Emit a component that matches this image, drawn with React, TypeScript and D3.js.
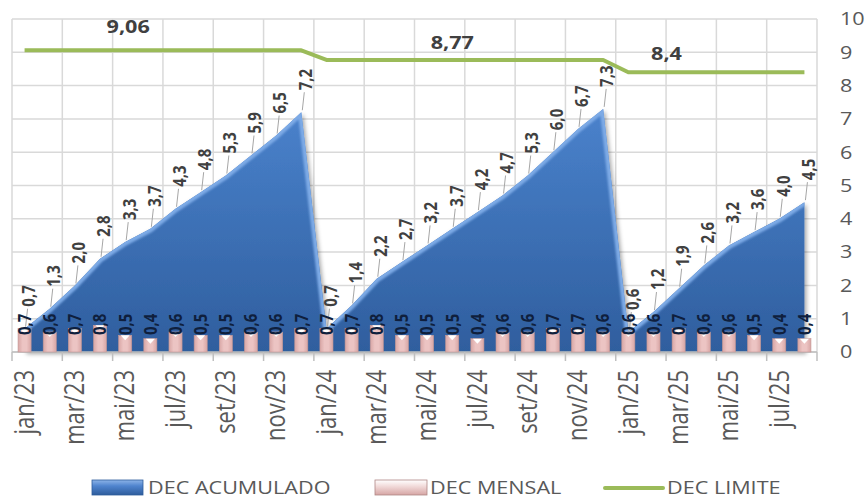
import * as d3 from "d3";
import { useEffect } from "react";

const months = [
  "jan/23", "fev/23", "mar/23", "abr/23", "mai/23", "jun/23", "jul/23", "ago/23", "set/23", "out/23", "nov/23", "dez/23",
  "jan/24", "fev/24", "mar/24", "abr/24", "mai/24", "jun/24", "jul/24", "ago/24", "set/24", "out/24", "nov/24", "dez/24",
  "jan/25", "fev/25", "mar/25", "abr/25", "mai/25", "jun/25", "jul/25", "ago/25",
];

const decAcumulado = [
  0.7, 1.3, 2.0, 2.8, 3.3, 3.7, 4.3, 4.8, 5.3, 5.9, 6.5, 7.2,
  0.7, 1.4, 2.2, 2.7, 3.2, 3.7, 4.2, 4.7, 5.3, 6.0, 6.7, 7.3,
  0.6, 1.2, 1.9, 2.6, 3.2, 3.6, 4.0, 4.5,
];

const decMensal = [
  0.7, 0.6, 0.7, 0.8, 0.5, 0.4, 0.6, 0.5, 0.5, 0.6, 0.6, 0.7,
  0.7, 0.7, 0.8, 0.5, 0.5, 0.5, 0.4, 0.6, 0.6, 0.7, 0.7, 0.6,
  0.6, 0.6, 0.7, 0.6, 0.6, 0.5, 0.4, 0.4,
];

const decLimite = [
  9.06, 9.06, 9.06, 9.06, 9.06, 9.06, 9.06, 9.06, 9.06, 9.06, 9.06, 9.06,
  8.77, 8.77, 8.77, 8.77, 8.77, 8.77, 8.77, 8.77, 8.77, 8.77, 8.77, 8.77,
  8.4, 8.4, 8.4, 8.4, 8.4, 8.4, 8.4, 8.4,
];

// which month carries the limit label
const limiteLabels = [
  { month: "mai/23", text: "9,06" },
  { month: "jun/24", text: "8,77" },
  { month: "fev/25", text: "8,4" },
];

const yTicks = [0, 1, 2, 3, 4, 5, 6, 7, 8, 9, 10];

const legendItems = ["DEC ACUMULADO", "DEC MENSAL", "DEC LIMITE"];

const fmt = (v: number) => d3.format(".1f")(v).replace(".", ",");

const W = 868;
const H = 498;
const FONT = "'Open Sans', 'Noto Sans', sans-serif";
const SX = 1.2; // horizontal text stretch seen in the picture

export default function App() {
  useEffect(() => {
    document.body.style.margin = "0";
  }, []);

  const x = d3.scaleBand<string>().domain(months).range([12, 817]).paddingInner(0.48).paddingOuter(0.24);
  const y = d3.scaleLinear().domain([0, 10]).range([352, 19]);
  const step = x.step();
  const cx = (m: string) => (x(m) as number) + x.bandwidth() / 2;
  const slotLeft = (i: number) => 12 + step * i;

  const data = months.map((m, i) => ({ m, acc: decAcumulado[i], men: decMensal[i], lim: decLimite[i] }));

  const area = d3.area<any>().x(d => cx(d.m)).y0(y(0)).y1(d => y(d.acc));
  const topEdge = d3.line<any>().x(d => cx(d.m)).y(d => y(d.acc));
  const limLine = d3.line<any>().x(d => cx(d.m)).y(d => y(d.lim));

  const gridX = d3.range(0, months.length + 1, 2).map(i => slotLeft(i));

  // small nudges of the limit labels, as placed in the picture
  const limNudge = [[3, -17], [0, -11], [13, -12]];

  return (
    <svg width={W} height={H} style={{ display: "block", background: "#fff" }} fontFamily={FONT}>
      <defs>
        <linearGradient id="accGrad" x1="0" y1="0" x2="0" y2="1">
          <stop offset="0%" stopColor="#4A82CC" />
          <stop offset="100%" stopColor="#2F5E9E" />
        </linearGradient>
        <linearGradient id="barGrad" x1="0" y1="0" x2="1" y2="0">
          <stop offset="0%" stopColor="#D8A6A5" />
          <stop offset="35%" stopColor="#ECC4C3" />
          <stop offset="65%" stopColor="#ECC4C3" />
          <stop offset="100%" stopColor="#D8A6A5" />
        </linearGradient>
        <linearGradient id="legAcc" x1="0" y1="0" x2="0" y2="1">
          <stop offset="0%" stopColor="#8DB4E8" />
          <stop offset="40%" stopColor="#4F84CE" />
          <stop offset="100%" stopColor="#2E5C9C" />
        </linearGradient>
        <linearGradient id="legMen" x1="0" y1="0" x2="0" y2="1">
          <stop offset="0%" stopColor="#FFFFFF" />
          <stop offset="40%" stopColor="#F2DCDB" />
          <stop offset="100%" stopColor="#D6A5A4" />
        </linearGradient>
        <filter id="shadow" x="-5%" y="-5%" width="110%" height="110%">
          <feDropShadow dx="2" dy="2" stdDeviation="2" floodColor="#000" floodOpacity="0.35" />
        </filter>
        <filter id="soft">
          <feGaussianBlur stdDeviation="1" />
        </filter>
        <clipPath id="accClip">
          <path d={area(data) as string} />
        </clipPath>
      </defs>

      {/* grid */}
      <g stroke="#D9D9D9" strokeWidth={1.5}>
        {yTicks.map(t => (
          <line key={"h" + t} x1={12} x2={817} y1={y(t)} y2={y(t)} />
        ))}
        {gridX.map((gx, i) => (
          <line key={"v" + i} x1={gx} x2={gx} y1={y(10)} y2={y(0)} />
        ))}
      </g>

      {/* acumulado area */}
      <path d={area(data) as string} fill="url(#accGrad)" filter="url(#shadow)" />
      <g clipPath="url(#accClip)">
        <path d={topEdge(data) as string} fill="none" stroke="#7DAAE6" strokeWidth={7} strokeLinejoin="round" filter="url(#soft)" />
      </g>

      {/* x axis */}
      <line x1={12} x2={817} y1={y(0)} y2={y(0)} stroke="#BFBFBF" strokeWidth={1.5} />
      {gridX.map((gx, i) => (
        <line key={"t" + i} x1={gx} x2={gx} y1={y(0)} y2={y(0) + 9} stroke="#BFBFBF" strokeWidth={1.5} />
      ))}

      {/* mensal bars */}
      {data.map(d => {
        const bx = x(d.m) as number;
        const bw = x.bandwidth();
        const by = y(d.men);
        return (
          <g key={"b" + d.m}>
            <rect x={bx} y={by} width={bw} height={y(0) - by} fill="url(#barGrad)" stroke="#C49896" strokeWidth={0.6} />
            <polygon points={`${bx + 2},${by} ${bx + bw - 2},${by} ${bx + bw / 2},${by + 5}`} fill="#FFFFFF" />
          </g>
        );
      })}

      {/* limite line */}
      <path d={limLine(data) as string} fill="none" stroke="#9BBB59" strokeWidth={4} strokeLinejoin="round" />

      {/* limite labels */}
      {limiteLabels.map((l, k) => {
        const i = months.indexOf(l.month);
        const [dx, dy] = limNudge[k];
        return (
          <text key={l.text} transform={`translate(${cx(l.month) + dx},${y(decLimite[i]) + dy}) scale(${SX},1)`} textAnchor="middle" fontSize={18} fontWeight="bold" fill="#404040">
            {l.text}
          </text>
        );
      })}

      {/* acumulado labels with leaders */}
      {data.map(d => {
        const px = cx(d.m);
        const py = y(d.acc);
        return (
          <g key={"a" + d.m}>
            <line x1={px + 1} y1={py - 2} x2={px + 3} y2={py - 20} stroke="#A6A6A6" strokeWidth={1} />
            <text transform={`translate(${px + 4},${py - 22}) scale(${SX},1) rotate(-90)`} dy="0.35em" fontSize={15} fontWeight="bold" fill="#404040">
              {fmt(d.acc)}
            </text>
          </g>
        );
      })}

      {/* mensal labels */}
      {data.map(d => (
        <text key={"ml" + d.m} transform={`translate(${cx(d.m)},${y(0) - 17}) scale(${SX},1) rotate(-90)`} dy="0.35em" fontSize={15} fontWeight="bold" fill="#0F1F3D">
          {fmt(d.men)}
        </text>
      ))}

      {/* x labels */}
      {months.map((m, i) =>
        i % 2 === 0 ? (
          <text key={"x" + m} transform={`translate(${cx(m)},370) scale(${SX},1) rotate(-90)`} dy="0.35em" textAnchor="end" fontSize={22} fill="#595959">
            {m}
          </text>
        ) : null
      )}

      {/* right y axis labels */}
      {yTicks.map(t => (
        <text key={"y" + t} transform={`translate(840,${y(t)}) scale(${SX},1)`} dy="0.35em" fontSize={18} fill="#595959">
          {t}
        </text>
      ))}

      {/* legend */}
      <g fontSize={18} fill="#595959">
        <rect x={92} y={480} width={51} height={15} fill="url(#legAcc)" stroke="#2E5C9C" strokeWidth={0.8} />
        <text transform={`translate(148,494) scale(${SX},1)`}>{legendItems[0]}</text>
        <rect x={375} y={480} width={52} height={15} fill="url(#legMen)" stroke="#B08786" strokeWidth={0.8} />
        <text transform={`translate(430,494) scale(${SX},1)`}>{legendItems[1]}</text>
        <line x1={605} x2={663} y1={488} y2={488} stroke="#9BBB59" strokeWidth={4} strokeLinecap="round" />
        <text transform={`translate(667,494) scale(${SX},1)`}>{legendItems[2]}</text>
      </g>
    </svg>
  );
}
